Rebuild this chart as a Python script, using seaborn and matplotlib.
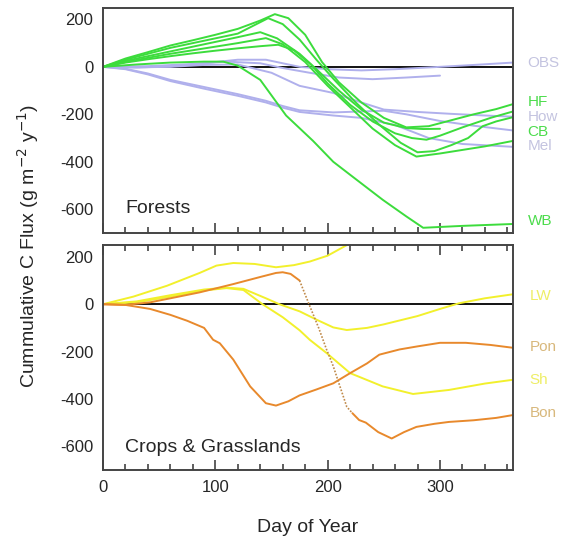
import numpy as np
import pandas as pd
import matplotlib
matplotlib.use('Agg')
import matplotlib.pyplot as plt
import seaborn as sns
from matplotlib.ticker import MultipleLocator

# ---- Forests: green sites (day of year, cumulative C flux) ----
hf_days = [0, 20, 40, 60, 80, 100, 120, 140, 153, 165, 180, 195, 210, 230, 250, 270, 290, 310, 330, 350, 365]
hf_vals = [0, 35, 62, 90, 112, 135, 160, 195, 222, 205, 135, 20, -65, -150, -215, -255, -250, -225, -200, -178, -157]

cb_days = [0, 20, 40, 60, 80, 100, 120, 147, 160, 175, 190, 205, 225, 245, 265, 280, 295, 310, 325, 338, 350, 365]
cb_vals = [0, 30, 55, 80, 100, 120, 140, 205, 180, 115, 30, -50, -150, -240, -320, -360, -355, -330, -300, -250, -230, -212]

grn_a_days = [0, 20, 40, 60, 80, 100, 120, 140, 155, 175, 190, 210, 230, 250, 270, 285, 300]
grn_a_vals = [0, 25, 45, 65, 85, 105, 125, 146, 120, 55, -10, -100, -180, -235, -258, -262, -261]

grn_b_days = [0, 20, 40, 60, 80, 100, 120, 145, 160, 180, 200, 220, 240, 260, 279, 300, 320, 340, 365]
grn_b_vals = [0, 20, 38, 55, 70, 85, 100, 121, 95, 20, -80, -170, -260, -330, -378, -365, -350, -335, -312]

grn_c_days = [0, 20, 40, 60, 80, 100, 120, 140, 156, 170, 185, 200, 220, 240, 260, 275, 288, 300, 320, 345, 365]
grn_c_vals = [0, 18, 32, 45, 57, 68, 78, 87, 93, 70, 10, -70, -160, -230, -280, -300, -307, -290, -255, -215, -188]

wb_days = [0, 30, 60, 90, 107, 120, 140, 163, 187, 205, 222, 249, 270, 285, 320, 365]
wb_vals = [0, 10, 18, 22, 22, 5, -55, -205, -312, -400, -462, -560, -630, -678, -670, -662]

# ---- Forests: lavender sites ----
obs_days = [0, 30, 60, 90, 120, 145, 175, 200, 230, 260, 300, 330, 365]
obs_vals = [0, -3, 2, 15, 30, 30, 0, -10, -15, -10, 0, 8, 18]

lav_a_days = [0, 40, 80, 110, 140, 160, 184, 210, 240, 270, 300]
lav_a_vals = [0, 3, 12, 22, 15, -5, -25, -45, -52, -45, -37]

how_days = [0, 30, 60, 90, 120, 150, 175, 205, 230, 250, 280, 310, 340, 365]
how_vals = [0, -2, 0, 8, 10, -25, -80, -110, -150, -180, -190, -198, -205, -210]

lav_b_days = [0, 20, 40, 60, 90, 120, 145, 160, 175, 205, 230, 250, 270, 300, 330, 365]
lav_b_vals = [0, -8, -28, -55, -85, -115, -143, -165, -183, -192, -188, -185, -200, -228, -248, -268]

mel_days = [0, 20, 40, 60, 90, 120, 145, 160, 175, 205, 230, 260, 290, 320, 365]
mel_vals = [0, -10, -32, -60, -92, -122, -150, -172, -190, -205, -215, -245, -300, -325, -337]

# ---- Crops & grasslands ----
yel_top_days = [0, 27, 57, 86, 101, 116, 135, 154, 170, 184, 200, 218]
yel_top_vals = [0, 32, 78, 132, 163, 174, 170, 156, 165, 180, 205, 252]

lw_days = [0, 30, 60, 90, 110, 125, 145, 157, 175, 190, 205, 217, 235, 250, 280, 300, 317, 340, 365]
lw_vals = [0, 12, 38, 62, 70, 65, 25, 0, -30, -65, -98, -109, -100, -85, -50, -20, 4, 25, 42]

sh_days = [0, 30, 60, 90, 110, 125, 142, 160, 175, 184, 199, 220, 249, 276, 308, 340, 365]
sh_vals = [0, 8, 32, 58, 68, 60, 0, -55, -110, -150, -206, -291, -347, -379, -362, -335, -319]

pon_days = [0, 20, 42, 60, 75, 90, 98, 104, 116, 131, 145, 154, 165, 175, 190, 205, 220, 235, 246, 264, 280, 300, 323, 345, 365]
pon_vals = [0, -3, -20, -45, -70, -100, -150, -165, -234, -347, -418, -428, -410, -385, -360, -334, -291, -250, -213, -191, -178, -163, -163, -172, -184]

bon_days = [0, 20, 42, 60, 86, 116, 140, 154, 160, 167, 175, 184, 192, 199, 205, 211, 217, 222, 228, 234, 245, 257, 268, 279, 295, 308, 330, 350, 365]
bon_vals = [0, -3, 8, 25, 50, 85, 115, 132, 135, 128, 100, -7, -100, -191, -262, -348, -433, -460, -489, -500, -540, -567, -540, -518, -505, -497, -490, -480, -468]

# right-hand site labels
forest_labels = ['OBS', 'HF', 'How', 'CB', 'Mel', 'WB']
forest_label_vals = [17, -150, -210, -275, -335, -650]
crop_labels = ['LW', 'Pon', 'Sh', 'Bon']
crop_label_vals = [35, -180, -320, -460]

GREEN = '#3cdc3c'
LAV = '#b0b0ec'
YEL = '#f2f02c'
ORA = '#e8892c'
label_colors = {'OBS': '#c4c4e0', 'HF': '#4cdc4c', 'How': '#c4c4e0', 'CB': '#4cdc4c',
                'Mel': '#c4c4e0', 'WB': '#4cdc4c', 'LW': '#eeee66', 'Pon': '#d8b87c',
                'Sh': '#eeee66', 'Bon': '#d8b87c'}

sns.set_style('white')
plt.rcParams['font.family'] = ['Liberation Sans', 'DejaVu Sans']
plt.rcParams['axes.unicode_minus'] = False

fig = plt.figure(figsize=(5.64, 5.39), dpi=100)
ax1 = fig.add_axes([103 / 564, 1 - 233 / 539, 410 / 564, 225.5 / 539])
ax2 = fig.add_axes([103 / 564, 1 - 470 / 539, 410 / 564, 225 / 539])


def draw(ax, d, v, color, ls='-', lw=1.4):
    sns.lineplot(x=d, y=v, ax=ax, color=color, lw=lw, linestyle=ls, sort=False,
                 estimator=None, legend=False)


for ax in (ax1, ax2):
    ax.axhline(0, color='black', lw=1.3, zorder=1)

# forests
for d, v in [(obs_days, obs_vals), (lav_a_days, lav_a_vals), (how_days, how_vals),
             (lav_b_days, lav_b_vals), (mel_days, mel_vals)]:
    draw(ax1, d, v, LAV)
for d, v in [(hf_days, hf_vals), (cb_days, cb_vals), (grn_a_days, grn_a_vals),
             (grn_b_days, grn_b_vals), (grn_c_days, grn_c_vals), (wb_days, wb_vals)]:
    draw(ax1, d, v, GREEN)

# crops
for d, v in [(yel_top_days, yel_top_vals), (lw_days, lw_vals), (sh_days, sh_vals)]:
    draw(ax2, d, v, YEL)
draw(ax2, pon_days, pon_vals, ORA)
bd = np.array(bon_days)
bv = np.array(bon_vals)
m1 = bd <= 175
m2 = (bd >= 175) & (bd <= 222)
m3 = bd >= 222
draw(ax2, bd[m1], bv[m1], ORA)
draw(ax2, bd[m2], bv[m2], '#c08a4a', ls=(0, (1, 1)), lw=1.2)
draw(ax2, bd[m3], bv[m3], ORA)

for lab, val in zip(forest_labels, forest_label_vals):
    ax1.text(378, val, lab, color=label_colors[lab], fontsize=11, va='center', ha='left', clip_on=False)
for lab, val in zip(crop_labels, crop_label_vals):
    ax2.text(380, val, lab, color=label_colors[lab], fontsize=11, va='center', ha='left', clip_on=False)

ax1.text(20, -597, 'Forests', fontsize=14, va='center', ha='left')
ax2.text(20, -605, 'Crops & Grasslands', fontsize=14, va='center', ha='left')

for ax in (ax1, ax2):
    ax.set_xlim(0, 365)
    ax.set_ylim(-700, 250)
    ax.xaxis.set_major_locator(MultipleLocator(100))
    ax.xaxis.set_minor_locator(MultipleLocator(20))
    ax.yaxis.set_major_locator(MultipleLocator(200))
    ax.yaxis.set_minor_locator(MultipleLocator(100))
    ax.tick_params(which='both', direction='in', color='#333333', width=1.1, labelsize=12)
    ax.tick_params(which='major', length=7)
    ax.tick_params(which='minor', length=4)
    ax.tick_params(axis='y', pad=7)
    ax.tick_params(axis='x', pad=7)
    for s in ax.spines.values():
        s.set_color('#444444')
        s.set_linewidth(1.4)
    ax.set_xlabel('')
    ax.set_ylabel('')

ax1.tick_params(axis='x', which='both', labelbottom=False, top=False, bottom=True)
ax2.tick_params(axis='x', which='both', top=True, bottom=True)

fig.text(0.05, 0.544, 'Cummulative C Flux (g m$^{-2}$ y$^{-1}$)', rotation=90,
         fontsize=14, va='center', ha='center')
fig.text(0.546, 0.022, 'Day of Year', fontsize=14, va='center', ha='center')

fig.savefig('out.png', dpi=100)
